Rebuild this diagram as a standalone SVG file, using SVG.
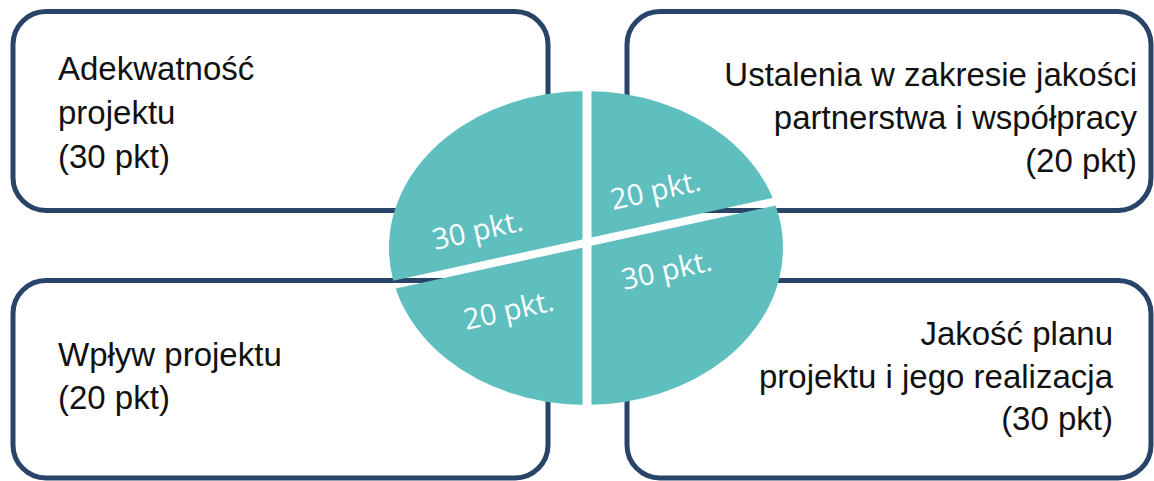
<svg xmlns="http://www.w3.org/2000/svg" width="1154" height="481" viewBox="0 0 1154 481">
<style>
.box{fill:#ffffff;stroke:#284468;stroke-width:5}
.lbl{font-family:"Liberation Sans",Arial,sans-serif;font-size:33px;fill:#111111}
.r{text-anchor:end}
.pt{font-family:"Open Sans","DejaVu Sans",sans-serif;font-size:29px;fill:#ffffff}
</style>
<defs>
<mask id="gaps" maskUnits="userSpaceOnUse" x="0" y="0" width="1154" height="481">
<rect x="0" y="0" width="1154" height="481" fill="#fff"/>
<line x1="587" y1="60" x2="587" y2="430" stroke="#000" stroke-width="9"/>
<line x1="370" y1="290" x2="800" y2="196" stroke="#000" stroke-width="8"/>
</mask>
</defs>
<g id="node-adekwatnosc">
<rect class="box" x="13" y="11.5" width="535" height="199" rx="33"/>
<text class="lbl" x="58" y="80">Adekwatność</text>
<text class="lbl" x="58" y="124">projektu</text>
<text class="lbl" x="58" y="168">(30 pkt)</text>
</g>
<g id="node-ustalenia">
<rect class="box" x="627" y="11.5" width="524" height="199" rx="33"/>
<text class="lbl r" x="1137" y="86">Ustalenia w zakresie jakości</text>
<text class="lbl r" x="1137" y="129">partnerstwa i współpracy</text>
<text class="lbl r" x="1137" y="172">(20 pkt)</text>
</g>
<g id="node-wplyw">
<rect class="box" x="13" y="280.5" width="535" height="197.5" rx="33"/>
<text class="lbl" x="58" y="366">Wpływ projektu</text>
<text class="lbl" x="58" y="409">(20 pkt)</text>
</g>
<g id="node-jakosc">
<rect class="box" x="627" y="280.5" width="524" height="197.5" rx="33"/>
<text class="lbl r" x="1113" y="345">Jakość planu</text>
<text class="lbl r" x="1113" y="388">projektu i jego realizacja</text>
<text class="lbl r" x="1113" y="430">(30 pkt)</text>
</g>
<g id="pie">
<ellipse cx="586" cy="248" rx="197" ry="157" fill="#5FBFBE" mask="url(#gaps)"/>
<text class="pt" transform="translate(435,250) rotate(-12.5)">30 pkt.</text>
<text class="pt" transform="translate(613,210) rotate(-12.5)">20 pkt.</text>
<text class="pt" transform="translate(466,330) rotate(-12.5)">20 pkt.</text>
<text class="pt" transform="translate(624,290) rotate(-12.5)">30 pkt.</text>
</g>
<g id="connectors"></g>
</svg>
